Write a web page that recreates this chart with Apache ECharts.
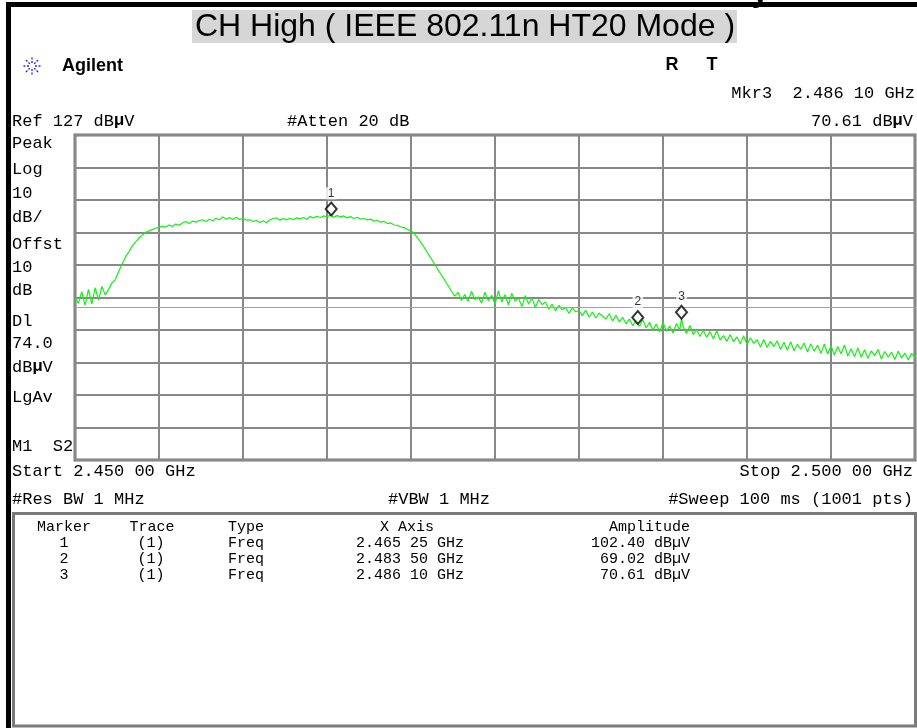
<!DOCTYPE html>
<html>
<head>
<meta charset="utf-8">
<title>CH High ( IEEE 802.11n HT20 Mode )</title>
<script src="https://cdn.jsdelivr.net/npm/echarts@6/dist/echarts.min.js"></script>
<style>
  html, body { margin: 0; padding: 0; background: #fff; }
  #chart { width: 917px; height: 728px; }
</style>
</head>
<body>
<div id="chart"></div>
<script>
// Sweep settings (GHz) and screen scale (dBµV)
const freqStartGHz = 2.450;
const freqStopGHz = 2.500;
const freqStepGHz = 0.0002;
const refLevel = 127;
const dbPerDiv = 10;
const displayLineLevel = 74.0;

// Peak trace, one value per 0.2 MHz from 2.450 GHz (dBµV)
const traceLevels = [
  77.0, 75.2, 78.8, 74.6, 79.5, 75.0, 80.0, 76.2, 80.4, 77.8,
  79.5, 81.5, 82.5, 85.0, 87.2, 89.4, 91.0, 92.8, 94.0, 95.3,
  96.2, 97.0, 97.5, 97.9, 98.3, 98.6, 98.9, 98.7, 99.3, 98.9,
  99.6, 99.2, 99.9, 100.4, 99.8, 100.5, 100.2, 100.7, 100.9, 100.4,
  101.1, 100.6, 101.4, 100.9, 101.8, 101.1, 101.6, 101.0, 101.7, 101.0,
  101.4, 100.8, 100.9, 100.4, 100.7, 100.1, 100.6, 100.0, 100.9, 101.3,
  101.5, 100.8, 101.3, 100.9, 101.4, 100.9, 101.5, 101.2, 101.6, 101.1,
  101.9, 101.5, 102.0, 101.6, 102.1, 101.8, 102.4, 101.7, 102.2, 101.8,
  102.1, 101.5, 101.9, 101.3, 101.7, 101.1, 101.3, 100.9, 101.1, 100.5,
  100.7, 100.2, 100.4, 99.8, 99.9, 99.3, 99.2, 98.7, 98.5, 97.9,
  97.6, 96.6, 95.3, 93.8, 92.3, 90.6, 89.0, 87.3, 85.6, 84.0,
  82.4, 80.7, 79.0, 77.4, 78.6, 76.1, 77.9, 75.8, 78.9, 76.4,
  77.2, 75.3, 78.6, 76.0, 77.7, 74.9, 79.1, 75.6, 77.9, 74.7,
  78.3, 75.9, 76.8, 74.2, 77.6, 75.0, 76.9, 73.9, 76.4, 74.8,
  75.6, 73.4, 74.9, 72.9, 74.6, 73.2, 73.9, 72.1, 73.8, 72.6,
  73.0, 71.4, 73.1, 71.0, 72.5, 70.7, 72.2, 71.3, 70.4, 72.0,
  69.8, 71.5, 69.5, 70.9, 68.9, 70.4, 68.3, 69.8, 68.1, 70.2,
  67.6, 69.4, 66.9, 68.8, 66.4, 69.3, 66.7, 68.2, 66.1, 69.0,
  66.9, 68.0, 65.9, 68.4, 65.6, 67.3, 65.0, 66.9, 64.8, 66.5,
  64.2, 66.8, 63.9, 65.3, 63.5, 65.6, 63.4, 64.9, 62.8, 65.2,
  62.5, 64.6, 62.9, 64.0, 61.8, 64.1, 61.6, 63.5, 61.9, 63.7,
  61.0, 63.2, 60.8, 63.4, 60.6, 62.6, 61.1, 63.0, 60.2, 62.8,
  60.5, 62.3, 59.8, 62.7, 59.6, 62.1, 59.3, 61.9, 59.7, 62.4,
  59.0, 61.2, 58.8, 61.5, 58.6, 60.9, 58.3, 60.6, 59.1, 61.0,
  58.1, 60.4, 58.7, 60.2, 57.9, 60.5, 58.4, 59.9, 57.8, 59.8,
  58.6
];

// Marker readouts
const markerNames = ['1', '2', '3'];
const markerTraces = ['(1)', '(1)', '(1)'];
const markerTypes = ['Freq', 'Freq', 'Freq'];
const markerFreqsGHz = [2.46525, 2.48350, 2.48610];
const markerLevels = [102.40, 69.02, 70.61];
const activeMarker = 2;

// Annotation texts
const leftLabels = ['Peak', 'Log', '10', 'dB/', 'Offst', '10', 'dB', 'Dl', '74.0', 'dB{b|µ}V', 'LgAv', 'M1  S2'];
const titleText = 'CH High ( IEEE 802.11n HT20 Mode )';

// ---- helpers ----
function fmtFreq(g) {
  const s = g.toFixed(5);
  return s.slice(0, 5) + ' ' + s.slice(5);
}
function fmtAmp(v) { return v.toFixed(2) + ' dBµV'; }

// Build the trace points, adding the marker readings at their own frequencies
const tracePoints = traceLevels.map((v, i) => [+(freqStartGHz + i * freqStepGHz).toFixed(5), v]);
markerFreqsGHz.forEach((f, k) => tracePoints.push([f, markerLevels[k]]));
tracePoints.sort((a, b) => a[0] - b[0]);

const markerPoints = markerFreqsGHz.map((f, k) => ({ value: [f, markerLevels[k]], name: markerNames[k] }));

const MONO = '"Liberation Mono", "DejaVu Sans Mono", monospace';
const SANS = '"Liberation Sans", Arial, sans-serif';
const richMu = { b: { fontFamily: MONO, fontSize: 17, fontWeight: 'bold', fill: '#000' } };

function monoText(text, x, y, align, size) {
  return {
    type: 'text', x: x, y: y, silent: true, z: 10,
    style: {
      text: text, fill: '#000', align: align || 'left', verticalAlign: 'middle',
      font: (size || 17) + 'px ' + MONO, rich: richMu
    }
  };
}

const graphics = [];

// Frame bars
graphics.push({ type: 'rect', shape: { x: 6, y: 2, width: 5, height: 726 }, style: { fill: '#000' }, silent: true });
graphics.push({ type: 'rect', shape: { x: 6, y: 2, width: 911, height: 5 }, style: { fill: '#000' }, silent: true });
graphics.push({ type: 'text', x: 760, y: 9, silent: true,
  style: { text: 'y', fill: '#000', font: 'bold 30px ' + SANS, align: 'center', verticalAlign: 'bottom' } });

// Title banner
graphics.push({ type: 'rect', shape: { x: 192, y: 10, width: 545, height: 33 }, style: { fill: '#d6d6d6' }, silent: true });
graphics.push({ type: 'text', x: 465, y: 27, silent: true,
  style: { text: titleText, fill: '#000', font: '32px ' + SANS, align: 'center', verticalAlign: 'middle' } });

// Agilent logo burst
(function () {
  const cx = 32, cy = 66;
  for (let a = 0; a < 8; a++) {
    const t = a * Math.PI / 4;
    graphics.push({ type: 'line', silent: true,
      shape: { x1: cx + Math.cos(t) * 3, y1: cy + Math.sin(t) * 3, x2: cx + Math.cos(t) * 10, y2: cy + Math.sin(t) * 10 },
      style: { stroke: '#2b2bff', lineWidth: 1.4, lineDash: [2, 1.5] } });
  }
})();
graphics.push({ type: 'text', x: 62, y: 66, silent: true,
  style: { text: 'Agilent', fill: '#000', font: 'bold 18px ' + SANS, align: 'left', verticalAlign: 'middle' } });
graphics.push({ type: 'text', x: 672, y: 65, silent: true,
  style: { text: 'R', fill: '#000', font: 'bold 18px ' + SANS, align: 'center', verticalAlign: 'middle' } });
graphics.push({ type: 'text', x: 712, y: 65, silent: true,
  style: { text: 'T', fill: '#000', font: 'bold 18px ' + SANS, align: 'center', verticalAlign: 'middle' } });

// Header readouts
graphics.push(monoText('Mkr' + markerNames[activeMarker] + '  ' + fmtFreq(markerFreqsGHz[activeMarker]) + ' GHz', 915, 93, 'right'));
graphics.push(monoText('Ref ' + refLevel + ' dB{b|µ}V', 12, 121, 'left'));
graphics.push(monoText('#Atten 20 dB', 287, 121, 'left'));
graphics.push(monoText(markerLevels[activeMarker].toFixed(2) + ' dB{b|µ}V', 913, 121, 'right'));

// Left status column
const leftY = [143, 169, 193, 217, 244, 267, 290, 321, 343, 367, 397, 446];
leftLabels.forEach((t, k) => graphics.push(monoText(t, 12, leftY[k], 'left')));

// Footer readouts
graphics.push(monoText('Start ' + fmtFreq(freqStartGHz) + ' GHz', 12, 471, 'left'));
graphics.push(monoText('Stop ' + fmtFreq(freqStopGHz) + ' GHz', 913, 471, 'right'));
graphics.push(monoText('#Res BW 1 MHz', 12, 499, 'left'));
graphics.push(monoText('#VBW 1 MHz', 388, 499, 'left'));
graphics.push(monoText('#Sweep 100 ms (1001 pts)', 913, 499, 'right'));

// Marker table
graphics.push({ type: 'rect', silent: true, shape: { x: 13.5, y: 513.5, width: 902, height: 212.5 },
  style: { fill: 'none', stroke: '#7a7a7a', lineWidth: 3 } });
graphics.push(monoText('Marker', 64, 527, 'center', 15));
graphics.push(monoText('Trace', 152, 527, 'center', 15));
graphics.push(monoText('Type', 228, 527, 'left', 15));
graphics.push(monoText('X Axis', 407, 527, 'center', 15));
graphics.push(monoText('Amplitude', 690, 527, 'right', 15));
markerNames.forEach((m, k) => {
  const y = 543 + k * 16;
  graphics.push(monoText(m, 64, y, 'center', 15));
  graphics.push(monoText(markerTraces[k], 151, y, 'center', 15));
  graphics.push(monoText(markerTypes[k], 228, y, 'left', 15));
  graphics.push(monoText(fmtFreq(markerFreqsGHz[k]) + ' GHz', 410, y, 'center', 15));
  graphics.push(monoText(fmtAmp(markerLevels[k]), 690, y, 'right', 15));
});

const chart = echarts.init(document.getElementById('chart'), null, { renderer: 'canvas' });
chart.setOption({
  animation: false,
  backgroundColor: '#ffffff',
  grid: {
    left: 75, top: 135, width: 840, height: 325,
    show: true, borderColor: '#767676', borderWidth: 3, backgroundColor: 'transparent'
  },
  xAxis: {
    type: 'value', min: freqStartGHz, max: freqStopGHz, interval: 0.005,
    axisLabel: { show: false }, axisTick: { show: false }, axisLine: { show: false },
    splitLine: { show: true, lineStyle: { color: '#888888', width: 2 } }
  },
  yAxis: {
    type: 'value', min: refLevel - 10 * dbPerDiv, max: refLevel, interval: dbPerDiv,
    axisLabel: { show: false }, axisTick: { show: false }, axisLine: { show: false },
    splitLine: { show: true, lineStyle: { color: '#888888', width: 2 } }
  },
  series: [
    {
      type: 'line',
      data: tracePoints,
      showSymbol: false,
      lineStyle: { color: '#14f014', width: 1.2 },
      z: 3,
      silent: true,
      markLine: {
        silent: true, symbol: 'none', label: { show: false },
        lineStyle: { color: '#3be83b', width: 1, type: 'solid' },
        data: [{ yAxis: displayLineLevel }]
      }
    },
    {
      type: 'scatter',
      data: markerPoints,
      symbol: 'diamond',
      symbolSize: [11, 13],
      symbolOffset: [0, -6],
      itemStyle: { color: '#ffffff', borderColor: '#000000', borderWidth: 2 },
      label: {
        show: true, position: 'top', distance: 2, formatter: p => p.name,
        fontFamily: SANS, fontSize: 12, color: '#000', backgroundColor: '#ffffff', padding: [0, 2]
      },
      z: 5,
      silent: true
    }
  ],
  graphic: graphics
});
</script>
</body>
</html>
